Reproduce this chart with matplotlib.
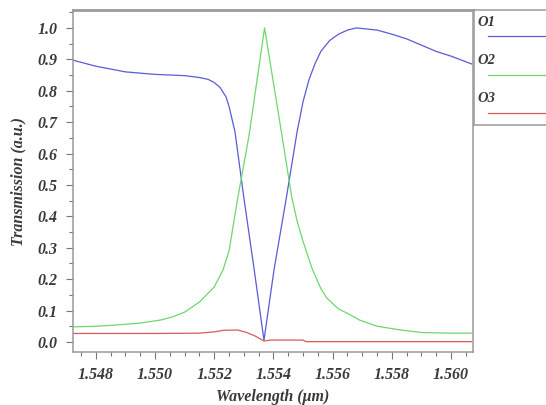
import matplotlib
matplotlib.use("Agg")
from matplotlib import pyplot as plt
from matplotlib.ticker import MultipleLocator, FormatStrFormatter

# O1 (blue)
wl_o1 = [1.5472, 1.5480, 1.5490, 1.5500, 1.5510, 1.5515, 1.5518, 1.5520, 1.5522,
         1.5524, 1.5525, 1.5527, 1.5530, 1.55335, 1.55368, 1.55402, 1.55442,
         1.5548, 1.5550, 1.5552, 1.5554, 1.5556, 1.5559, 1.5562, 1.5565, 1.5568,
         1.5575, 1.5580, 1.5585, 1.5590, 1.5595, 1.5600, 1.5607]
t_o1 = [0.898, 0.878, 0.860, 0.852, 0.848, 0.842, 0.836, 0.826, 0.81,
        0.78, 0.75, 0.67, 0.46, 0.23, 0.005, 0.23, 0.45,
        0.67, 0.765, 0.835, 0.885, 0.925, 0.96, 0.98, 0.993, 1.0,
        0.993, 0.98, 0.965, 0.945, 0.925, 0.91, 0.885]

# O2 (green)
wl_o2 = [1.5472, 1.5480, 1.5487, 1.5495, 1.5502, 1.5506, 1.5510, 1.5515, 1.5520,
         1.5523, 1.5525, 1.55278, 1.55318, 1.5537, 1.5543, 1.55462, 1.5548,
         1.5550, 1.5553, 1.5556, 1.5558, 1.5562, 1.5566, 1.5569, 1.5575, 1.5583,
         1.5590, 1.5600, 1.5607]
t_o2 = [0.048, 0.050, 0.054, 0.060, 0.070, 0.080, 0.095, 0.127, 0.175,
        0.23, 0.29, 0.45, 0.66, 1.0, 0.65, 0.46, 0.385,
        0.32, 0.235, 0.17, 0.14, 0.105, 0.086, 0.07, 0.05, 0.038,
        0.03, 0.028, 0.028]

# O3 (red)
wl_o3 = [1.5472, 1.5500, 1.5515, 1.5520, 1.5523, 1.5528, 1.5531, 1.5534, 1.55368,
         1.5539, 1.5550, 1.5551, 1.5607]
t_o3 = [0.027, 0.027, 0.028, 0.032, 0.037, 0.038, 0.030, 0.018, 0.003,
        0.006, 0.006, 0.001, 0.001]

series = [("O1", wl_o1, t_o1, "#5b5bd6"),
          ("O2", wl_o2, t_o2, "#6cd86c"),
          ("O3", wl_o3, t_o3, "#d85a5a")]

txt = "#3a3a3a"
fnt = dict(family="Liberation Serif", weight="bold", style="italic", color=txt)

fig = plt.figure(figsize=(5.46, 4.05), dpi=100)
ax = fig.add_axes([73/546, 1-352/405, 400/546, 342/405])

for name, x, y, c in series:
    ax.plot(x, y, color=c, lw=0.9)

ax.set_xlim(1.54723, 1.56074)
ax.set_ylim(-0.032, 1.057)
ax.xaxis.set_major_locator(MultipleLocator(0.002))
ax.xaxis.set_minor_locator(MultipleLocator(0.0005))
ax.yaxis.set_major_locator(MultipleLocator(0.1))
ax.yaxis.set_minor_locator(MultipleLocator(0.05))
ax.xaxis.set_major_formatter(FormatStrFormatter("%.3f"))
ax.yaxis.set_major_formatter(FormatStrFormatter("%.1f"))
ax.tick_params(which="major", direction="out", length=5, width=0.8, color="#777", pad=6)
ax.tick_params(which="minor", direction="out", length=3, width=0.8, color="#777")
for lab in ax.get_xticklabels() + ax.get_yticklabels():
    lab.set_fontfamily("Liberation Serif")
    lab.set_fontweight("bold")
    lab.set_fontstyle("italic")
    lab.set_fontsize(11.5)
    lab.set_color(txt)
for s in ax.spines.values():
    s.set_color("#9a9a9a")
    s.set_linewidth(1.1)
ax.spines["top"].set_linewidth(2)

ax.set_xlabel("Wavelength (\u03bcm)", fontsize=11.5, labelpad=4, **fnt)
ax.set_ylabel("Transmission (a.u.)", fontsize=11.5, labelpad=8, **fnt)

# legend panel on the right
lg = fig.add_axes([474/546, 1-125/405, 80/546, 115/405])
lg.set_xlim(0, 80)
lg.set_ylim(115, 0)
lg.set_xticks([])
lg.set_yticks([])
for s in lg.spines.values():
    s.set_color("#9a9a9a")
    s.set_linewidth(1.1)
for i, (name, x, y, c) in enumerate(series):
    y0 = 12 + i * 38.5
    lg.text(3, y0, name, fontsize=10.5, va="center", ha="left", **fnt)
    lg.plot([14, 80], [y0 + 14, y0 + 14], color=c, lw=0.9)

fig.savefig("out.png", dpi=100)
